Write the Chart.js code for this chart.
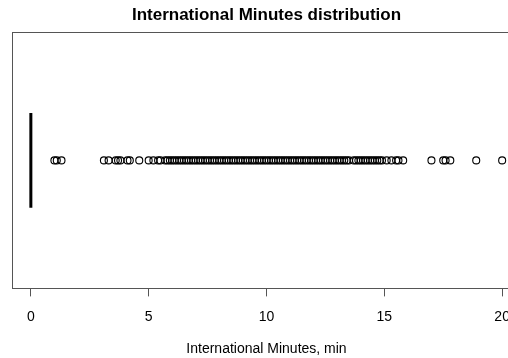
<!DOCTYPE html>
<html>
<head>
<meta charset="utf-8">
<script src="https://cdn.jsdelivr.net/npm/chart.js@4.4.1/dist/chart.umd.min.js"></script>
<style>
  html, body { margin: 0; padding: 0; background: #fff; overflow: hidden; }
  #wrap { width: 530px; height: 358px; }
</style>
</head>
<body>
<div id="wrap"><canvas id="myChart" width="530" height="358"></canvas></div>
<script>
// Data
const TITLE = 'International Minutes distribution';
const X_LABEL = 'International Minutes, min';
const TICK_VALUES = [0, 5, 10, 15, 20];
const MEDIAN = [0];

// outliers (everything off the collapsed box)
const lowOutliers = [1.0, 1.1, 1.3];
const midValues = [
  3.1, 3.3, 3.6, 3.7, 3.8, 4.1, 4.2, 4.6, 5.0, 5.2, 5.4, 5.5, 5.7, 5.8, 5.9,
  6.0, 6.1, 6.2, 6.3, 6.4, 6.5, 6.6, 6.7, 6.8, 6.9,
  7.0, 7.1, 7.2, 7.3, 7.4, 7.5, 7.6, 7.7, 7.8, 7.9,
  8.0, 8.1, 8.2, 8.3, 8.4, 8.5, 8.6, 8.7, 8.8, 8.9,
  9.0, 9.1, 9.2, 9.3, 9.4, 9.5, 9.6, 9.7, 9.8, 9.9,
  10.0, 10.1, 10.2, 10.3, 10.4, 10.5, 10.6, 10.7, 10.8, 10.9,
  11.0, 11.1, 11.2, 11.3, 11.4, 11.5, 11.6, 11.7, 11.8, 11.9,
  12.0, 12.1, 12.2, 12.3, 12.4, 12.5, 12.6, 12.7, 12.8, 12.9,
  13.0, 13.1, 13.2, 13.3, 13.4, 13.5, 13.7, 13.8, 13.9,
  14.0, 14.1, 14.2, 14.3, 14.4, 14.5, 14.6, 14.7, 14.8, 14.9,
  15.1, 15.3, 15.5, 15.6, 15.8
];
const highOutliers = [17.0, 17.5, 17.6, 17.8, 18.9, 20.0];

const FONT = '"Liberation Sans", Arial, Helvetica, sans-serif';

// Box around the plot region, like R's box()
const frame = {
  id: 'frame',
  afterDraw(chart) {
    const { ctx, chartArea: a } = chart;
    ctx.save();
    ctx.strokeStyle = '#555';
    ctx.lineWidth = 1;
    ctx.strokeRect(Math.round(a.left) + 0.5, Math.round(a.top) + 0.5,
      Math.round(a.right - a.left), Math.round(a.bottom - a.top));
    ctx.restore();
  }
};

const allPoints = [...lowOutliers, ...midValues, ...highOutliers].map(v => ({ x: v, y: 1 }));
const medianLine = [{ x: MEDIAN[0], y: 0.8 }, { x: MEDIAN[0], y: 1.2 }];

const ctx = document.getElementById('myChart');
const chart = new Chart(ctx, {
  type: 'scatter',
  data: {
    datasets: [
      {
        data: allPoints,
        pointStyle: 'circle',
        pointRadius: 3.5,
        pointBorderWidth: 1.1,
        pointBorderColor: '#000',
        pointBackgroundColor: 'rgba(0,0,0,0)',
        showLine: false
      },
      {
        type: 'line',
        data: medianLine,
        borderColor: '#000',
        borderWidth: 3,
        pointRadius: 0,
        borderCapStyle: 'butt'
      }
    ]
  },
  options: {
    responsive: false,
    animation: false,
    events: [],
    layout: { padding: { left: 12, right: 9, top: 0, bottom: 0 } },
    plugins: {
      legend: { display: false },
      tooltip: { enabled: false },
      title: {
        display: true,
        text: TITLE,
        color: '#000',
        font: { family: FONT, size: 17, weight: 'bold' },
        padding: { top: 5, bottom: 7 }
      }
    },
    scales: {
      x: {
        type: 'linear',
        min: -0.8,
        max: 20.8,
        afterBuildTicks: (axis) => {
          axis.ticks = TICK_VALUES.map(v => ({ value: v }));
        },
        border: { display: false },
        grid: {
          drawOnChartArea: false,
          drawTicks: true,
          tickLength: 8,
          color: '#555'
        },
        ticks: {
          color: '#000',
          padding: 12,
          maxRotation: 0,
          autoSkip: false,
          font: { family: FONT, size: 14 }
        },
        title: {
          display: true,
          text: X_LABEL,
          color: '#000',
          font: { family: FONT, size: 14 },
          padding: { top: 4, bottom: 0 }
        }
      },
      y: {
        type: 'linear',
        min: 0.46,
        max: 1.54,
        display: false
      }
    }
  },
  plugins: [frame]
});
</script>
</body>
</html>
